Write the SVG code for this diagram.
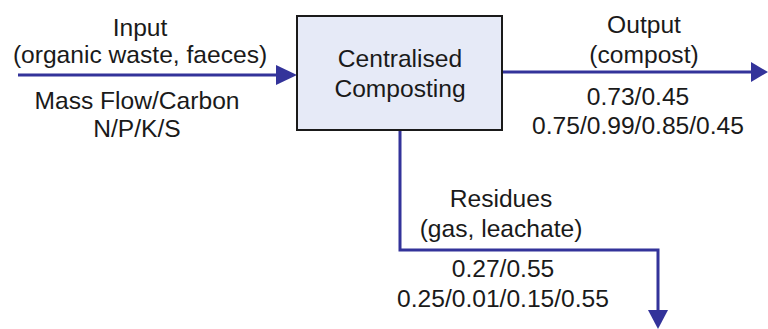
<svg xmlns="http://www.w3.org/2000/svg" width="768" height="329" viewBox="0 0 768 329">
<defs>
<style>
text{font-family:"Liberation Sans",Arial,sans-serif;font-size:24.6px;fill:#1a1a1a;text-anchor:middle}
.flow{fill:none;stroke:#33339a;stroke-width:3}
.head{fill:#33339a}
</style>
</defs>
<rect width="768" height="329" fill="#ffffff"/>
<g id="connectors">
<line class="flow" x1="18" y1="75" x2="278" y2="75"/>
<polygon class="head" points="276,65 297,75 276,85"/>
<line class="flow" x1="502" y1="72" x2="754" y2="72"/>
<polygon class="head" points="751,62 768,72 751,82"/>
<polyline class="flow" points="400,130 400,250 658,250 658,312"/>
<polygon class="head" points="648,310 658,329 668,310"/>
</g>
<g id="node-composting">
<rect x="297" y="16" width="205" height="114" fill="#e6eaf7" stroke="#1a1a1a" stroke-width="2"/>
<text x="400" y="67">Centralised</text>
<text x="400" y="97">Composting</text>
</g>
<g id="label-input">
<text x="140" y="36">Input</text>
<text x="140" y="63">(organic waste, faeces)</text>
<text x="137" y="109">Mass Flow/Carbon</text>
<text x="137" y="137">N/P/K/S</text>
</g>
<g id="label-output">
<text x="644" y="33">Output</text>
<text x="644" y="63">(compost)</text>
<text x="638" y="105">0.73/0.45</text>
<text x="638" y="134">0.75/0.99/0.85/0.45</text>
</g>
<g id="label-residues">
<text x="501" y="207">Residues</text>
<text x="501" y="237">(gas, leachate)</text>
<text x="503" y="277">0.27/0.55</text>
<text x="503" y="307">0.25/0.01/0.15/0.55</text>
</g>
</svg>
